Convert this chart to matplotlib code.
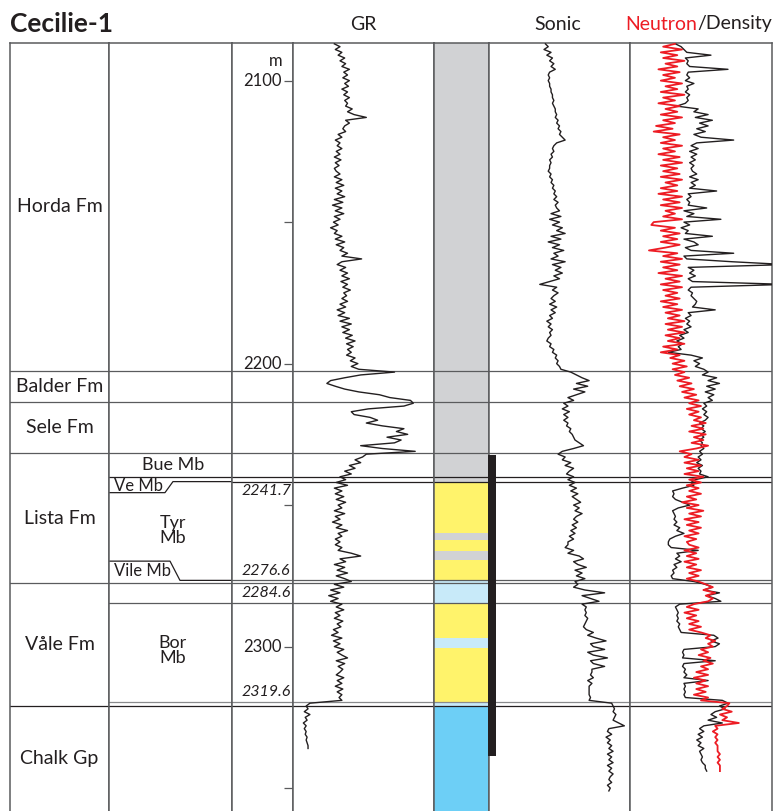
import numpy as np
import matplotlib.pyplot as plt
from matplotlib.transforms import blended_transform_factory

plt.rcParams['font.family'] = ['Lato', 'DejaVu Sans']

# formations, column 1
fm_names = ['Horda Fm', 'Balder Fm', 'Sele Fm', 'Lista Fm', 'Våle Fm', 'Chalk Gp']
fm_tops = [2086.7, 2202.6, 2213.6, 2231.6, 2277.7, 2321.0]
fm_bases = [2202.6, 2213.6, 2231.6, 2277.7, 2321.0, 2358.1]

# members, column 2
mb_names = ['Bue Mb', 'Tyr\nMb', 'Bor\nMb']
mb_depths = [2235.9, 2258.9, 2301.5]
wedge_names = ['Ve Mb', 'Vile Mb']
wedge_depths = [2243.3, 2273.3]

# picks and depth scale, column 3
pick_depths = [2241.7, 2276.6, 2284.6, 2319.6]
depth_ticks = [2100, 2150, 2200, 2250, 2300, 2350]
depth_labels = [2100, 2200, 2300]

# lithology column
lith_tops = [2086.7, 2241.7, 2259.8, 2262.3, 2266.2, 2269.4, 2276.6, 2284.6, 2296.9, 2300.4, 2319.6, 2321.0]
lith_bases = [2241.7, 2259.8, 2262.3, 2266.2, 2269.4, 2276.6, 2284.6, 2296.9, 2300.4, 2319.6, 2321.0, 2358.1]
lith_kinds = ['shale', 'sand', 'shale', 'sand', 'shale', 'sand', 'marl', 'sand', 'marl', 'sand', 'marl', 'chalk']

# cored interval
core_top, core_base = 2232.3, 2338.5

# logs, 1 m samples from the top depth
gr_top = 2087
gr = [44, 50, 45, 52, 48, 55, 50, 56, 52, 60, 54, 58, 53, 60, 55, 59, 52, 58, 54, 60, 55, 58, 56, 63, 58,
      65, 78, 56, 60, 55, 53, 56, 48, 52, 45, 50, 47, 52, 46, 50, 44, 51, 45, 49, 44,
      46, 50, 44, 52, 46, 54, 45, 52, 47, 55, 44, 53, 42, 52, 45, 54, 44, 50, 43, 48, 40, 47,
      44, 52, 45, 55, 46, 54, 50, 58, 52, 73, 52, 47, 56, 50, 58, 52, 60, 51, 58, 53, 61, 54,
      57, 52, 58, 50, 56, 47, 55, 48, 60, 50, 62, 52, 60, 53, 63, 56, 66, 57, 64, 58, 62, 57,
      66, 61, 69, 62, 70, 108, 72, 55, 40, 36, 45, 55, 70, 92, 103, 125, 128, 118, 80, 62, 65, 82,
      90, 78, 95, 118, 110, 122, 100, 115, 108, 72, 95, 130, 78, 74, 66, 72, 60, 66, 55, 62,
      50, 56, 46, 58, 44, 52, 45, 54, 46, 56, 48, 52, 44, 55, 45, 50, 42, 52, 46, 58, 48, 52, 45, 50,
      45, 52, 48, 62, 72, 50, 56, 44, 55, 47, 58, 46, 55, 62, 44, 54, 40, 50, 38, 48, 40, 52,
      46, 54, 45, 50, 44, 53, 47, 51, 43, 48, 41, 52, 43, 50, 44, 54, 47, 52, 58, 46, 55, 48, 53,
      50, 46, 54, 47, 52, 45, 53, 47, 52, 49, 52, 18, 14, 16, 12, 18, 13, 15, 11, 14, 12, 14,
      13, 15, 14, 15, 16, 16]

dt_top = 2087
dt = [100, 98, 101, 96, 99, 95, 97, 94, 96, 93, 97, 98, 97, 98, 97, 97, 96, 96, 95, 95, 94, 95, 94,
      93, 93, 92, 93, 91, 92, 90, 91, 89, 90, 88, 86, 92, 94, 95, 94, 96, 95, 97, 96, 97, 97,
      98, 96, 97, 95, 96, 94, 95, 93, 94, 92, 94, 91, 93, 92, 90, 96, 89, 97, 90, 95, 88, 92,
      86, 96, 89, 98, 90, 95, 87, 94, 91, 96, 86, 95, 89, 93, 88, 94, 90, 97, 104, 92, 95, 91,
      94, 96, 93, 97, 92, 96, 93, 97, 95, 99, 96, 98, 95, 97, 96, 98, 99, 96, 97, 94, 95, 92,
      93, 91, 92, 90, 89, 82, 78, 74, 69, 78, 70, 80, 72, 78, 84, 80, 87, 84, 88, 83, 87, 84,
      87, 84, 85, 82, 83, 81, 80, 79, 76, 73, 80, 88, 91, 86, 88, 82, 86, 80, 83, 85, 80, 84,
      79, 83, 78, 82, 77, 81, 78, 75, 80, 76, 79, 74, 78, 80, 77, 81, 78, 82, 79, 83, 80, 84,
      84, 86, 80, 84, 76, 73, 80, 77, 71, 79, 74, 78, 72, 79, 77, 80, 72, 58, 74, 68, 62, 74,
      71, 72, 71, 72, 70, 71, 72, 73, 71, 66, 70, 64, 57, 68, 66, 58, 70, 66, 56, 68, 66, 58, 67,
      67, 68, 66, 70, 67, 69, 69, 69, 69, 68, 69, 53, 52, 51, 52, 50, 51, 52, 48, 44, 55, 56,
      53, 57, 54, 56, 53, 55, 52, 56, 53, 55, 52, 56, 53, 55, 52, 54, 55, 53, 56, 54, 55]

rhob_top = 2087
rhob = [2.27, 2.31, 2.33, 2.35, 2.52, 2.34, 2.36, 2.35, 2.37, 2.64, 2.36, 2.35, 2.37, 2.34, 2.40,
        2.35, 2.36, 2.34, 2.37, 2.35, 2.36, 2.34, 2.28, 2.43, 2.40, 2.50, 2.41, 2.53, 2.44, 2.50,
        2.42, 2.48, 2.40, 2.45, 2.68, 2.42, 2.38, 2.43, 2.37, 2.42, 2.38, 2.41, 2.37, 2.40, 2.38,
        2.39, 2.42, 2.37, 2.43, 2.38, 2.41, 2.37, 2.56, 2.36, 2.38, 2.35, 2.37, 2.36, 2.49, 2.33,
        2.40, 2.35, 2.59, 2.33, 2.37, 2.31, 2.36, 2.34, 2.53, 2.33, 2.40, 2.43, 2.34, 2.38, 2.68,
        2.33, 2.35, 2.67, 3.05, 2.36, 2.40, 2.37, 2.41, 2.36, 2.39, 3.05, 2.38, 2.36, 2.39,
        2.38, 2.40, 2.42, 2.41, 2.39, 2.55, 2.36, 2.38, 2.34, 2.37, 2.35, 2.38, 2.33, 2.36, 2.30,
        2.33, 2.28, 2.32, 2.29, 2.31, 2.22, 2.38, 2.46, 2.40, 2.44, 2.41, 2.47, 2.50, 2.46, 2.56,
        2.50, 2.58, 2.49, 2.55, 2.48, 2.54, 2.50, 2.53, 2.47, 2.49, 2.46, 2.49, 2.47, 2.50,
        2.48, 2.44, 2.47, 2.45, 2.48, 2.45, 2.47, 2.44, 2.46, 2.45, 2.47, 2.44, 2.46, 2.43, 2.45,
        2.42, 2.46, 2.43, 2.45, 2.44, 2.50, 2.41, 2.38, 2.40, 2.32, 2.25, 2.26, 2.25, 2.27, 2.32,
        2.37, 2.29, 2.25, 2.26, 2.27, 2.26, 2.28, 2.26, 2.30, 2.28, 2.33, 2.27, 2.23, 2.22,
        2.22, 2.24, 2.43, 2.28, 2.30, 2.27, 2.31, 2.26, 2.28, 2.25, 2.26, 2.24, 2.25, 2.40, 2.48,
        2.53, 2.47, 2.58, 2.49, 2.55, 2.59, 2.30, 2.27, 2.28, 2.29, 2.28, 2.29, 2.28, 2.30, 2.29,
        2.30, 2.31, 2.54, 2.57, 2.52, 2.58, 2.55, 2.33, 2.32, 2.33, 2.32, 2.55, 2.33, 2.32, 2.34,
        2.33, 2.35, 2.33, 2.50, 2.33, 2.34, 2.33, 2.34, 2.33, 2.34, 2.60, 2.64, 2.58, 2.62, 2.55,
        2.52, 2.56, 2.50, 2.60, 2.47, 2.44, 2.47, 2.43, 2.46, 2.42, 2.45, 2.43, 2.47, 2.44, 2.45,
        2.46, 2.45, 2.46, 2.48, 2.48, 2.49]

nphi_top = 2087
nphi = [0.26, 0.31, 0.23, 0.32, 0.25, 0.31, 0.22, 0.30, 0.25, 0.33, 0.24, 0.31, 0.26, 0.32, 0.23,
        0.30, 0.25, 0.32, 0.22, 0.31, 0.26, 0.33, 0.24, 0.30, 0.25, 0.32, 0.23, 0.31, 0.26, 0.34,
        0.27, 0.35, 0.24, 0.31, 0.26, 0.32, 0.23, 0.31, 0.26, 0.33, 0.24, 0.31, 0.23, 0.32, 0.25,
        0.31, 0.24, 0.32, 0.23, 0.30, 0.25, 0.32, 0.25, 0.33, 0.23, 0.31, 0.24, 0.32, 0.23, 0.30,
        0.26, 0.31, 0.23, 0.35, 0.36, 0.26, 0.32, 0.24, 0.31, 0.25, 0.32, 0.24, 0.30, 0.37, 0.25,
        0.31, 0.23, 0.32, 0.24, 0.31, 0.25, 0.33, 0.23, 0.30, 0.24, 0.32, 0.23, 0.31, 0.25,
        0.30, 0.24, 0.32, 0.25, 0.31, 0.23, 0.30, 0.24, 0.29, 0.22, 0.30, 0.23, 0.29, 0.22, 0.30,
        0.24, 0.29, 0.22, 0.31, 0.25, 0.32, 0.24, 0.28, 0.22, 0.27, 0.21, 0.27, 0.22, 0.26, 0.20,
        0.25, 0.19, 0.24, 0.18, 0.23, 0.17, 0.22, 0.16, 0.20, 0.15, 0.21, 0.16, 0.20, 0.15,
        0.18, 0.13, 0.19, 0.14, 0.20, 0.13, 0.18, 0.14, 0.19, 0.12, 0.17, 0.24, 0.19, 0.22, 0.16,
        0.22, 0.15, 0.21, 0.16, 0.22, 0.14, 0.20, 0.15, 0.21, 0.16, 0.20, 0.15, 0.21, 0.17, 0.23,
        0.16, 0.21, 0.14, 0.20, 0.15, 0.22, 0.16, 0.21, 0.15, 0.20, 0.16, 0.22, 0.17, 0.21,
        0.20, 0.16, 0.22, 0.17, 0.21, 0.16, 0.22, 0.17, 0.21, 0.15, 0.20, 0.16, 0.21, 0.16, 0.13,
        0.10, 0.14, 0.09, 0.13, 0.10, 0.12, 0.18, 0.21, 0.16, 0.22, 0.17, 0.21, 0.16, 0.20, 0.15,
        0.20, 0.15, 0.11, 0.13, 0.09, 0.12, 0.10, 0.15, 0.12, 0.16, 0.11, 0.14, 0.10, 0.15, 0.12,
        0.17, 0.12, 0.18, 0.13, 0.17, 0.12, 0.17, 0.13, 0.18, 0.12, 0.15, 0.03, 0.04, 0.06, 0.02,
        0.07, 0.04, 0.06, -0.01, 0.09, 0.08, 0.10, 0.08, 0.09, 0.08, 0.09, 0.08, 0.08, 0.08, 0.07,
        0.08, 0.07, 0.08, 0.07, 0.07, 0.07]

INK = '#231f20'
FRAME = '#5a5b5d'
RED = '#ed1c24'
lith_colors = {'shale': '#d1d2d4', 'sand': '#fff36b', 'marl': '#c8eaf9', 'chalk': '#6dcff6'}

W, H = 773, 811
top_depth, base_depth = fm_tops[0], fm_bases[-1]
frame_top = 43
edges = [10, 109, 232, 293, 434, 489, 630, 772]

fig = plt.figure(figsize=(W / 100, H / 100), dpi=100)

tracks = []
for x0, x1 in zip(edges[:-1], edges[1:]):
    ax = fig.add_axes([x0 / W, 0, (x1 - x0) / W, (H - frame_top) / H])
    ax.set_ylim(base_depth, top_depth)
    ax.set_xlim(0, 1)
    ax.set_xticks([])
    ax.set_yticks([])
    for side in ['left', 'right', 'top']:
        ax.spines[side].set_color(FRAME)
        ax.spines[side].set_linewidth(1.1)
    ax.spines['bottom'].set_visible(False)
    tracks.append(ax)

ax_fm, ax_mb, ax_depth, ax_gr, ax_lith, ax_dt, ax_nd = tracks


def blend(ax):
    return blended_transform_factory(ax.transAxes, ax.transData)


# boundary lines: depth, first track they cross, colour
boundaries = [(2202.6, 0, FRAME), (2213.6, 0, FRAME), (2231.6, 0, FRAME),
              (2240.1, 1, INK), (2241.7, 2, INK), (2276.6, 2, FRAME), (2277.7, 0, FRAME),
              (2284.6, 1, FRAME), (2319.6, 1, '#8a8b8d'), (2321.0, 0, INK)]
for depth, first, color in boundaries:
    for ax in tracks[first:]:
        ax.axhline(depth, color=color, lw=0.9, zorder=2)

# Ve and Vile wedges in the member column
ax_mb.plot([0, 0.455, 0.52, 1], [2245.6, 2245.6, 2241.7, 2241.7], color=INK, lw=0.9,
           transform=blend(ax_mb), zorder=2)
ax_mb.plot([0, 0.496, 0.577, 1], [2269.8, 2269.8, 2276.6, 2276.6], color=INK, lw=0.9,
           transform=blend(ax_mb), zorder=2)

# formation and member names
for name, top, base in zip(fm_names, fm_tops, fm_bases):
    ax_fm.text(0.5, (top + base) / 2, name, transform=blend(ax_fm), ha='center', va='center',
               fontsize=14, color=INK)
for name, depth in zip(mb_names, mb_depths):
    ax_mb.text(0.52, depth, name, transform=blend(ax_mb), ha='center', va='center',
               fontsize=13, color=INK, linespacing=0.9)
for name, depth in zip(wedge_names, wedge_depths):
    ax_mb.text(0.04, depth, name, transform=blend(ax_mb), ha='left', va='center',
               fontsize=12, color=INK)

# depth column
ax_depth.set_yticks(depth_ticks)
ax_depth.tick_params(axis='y', left=False, right=True, direction='in', length=6.5, width=0.9,
                     color=FRAME, labelleft=False, labelright=False)
for d in depth_labels:
    ax_depth.text(0.82, d, str(d), transform=blend(ax_depth), ha='right', va='center',
                  fontsize=12, color=INK)
ax_depth.annotate('m', xy=(0.82, depth_labels[0]), xycoords=blend(ax_depth),
                  xytext=(0, 14), textcoords='offset points', ha='right', va='center',
                  fontsize=12, color=INK)
for d in pick_depths:
    below = d == pick_depths[0]
    ax_depth.annotate(f'{d:.1f}', xy=(0.15, d), xycoords=blend(ax_depth),
                      xytext=(0, -2 if below else 2), textcoords='offset points',
                      ha='left', va='top' if below else 'bottom',
                      fontsize=11.5, fontstyle='italic', color=INK)

# lithology column
for top, base, kind in zip(lith_tops, lith_bases, lith_kinds):
    ax_lith.axhspan(top, base, color=lith_colors[kind], lw=0, zorder=1)

# core bar on the left edge of the sonic track
ax_dt.add_patch(plt.Rectangle((-0.005, core_top), 0.055, core_base - core_top, transform=blend(ax_dt),
                              color=INK, lw=0, zorder=3, clip_on=False))

# log curves
gr_depth = gr_top + np.arange(len(gr))
ax_gr.set_xlim(0, 150)
ax_gr.plot(gr, gr_depth, color=INK, lw=1.0, zorder=3)

dt_depth = dt_top + np.arange(len(dt))
ax_dt.set_xlim(140, 40)
ax_dt.plot(dt, dt_depth, color=INK, lw=1.0, zorder=3)

rhob_depth = rhob_top + np.arange(len(rhob))
ax_nd.set_xlim(1.95, 2.95)
ax_nd.plot(rhob, rhob_depth, color=INK, lw=1.0, zorder=3)

ax_nphi = ax_nd.twiny()
ax_nphi.set_xlim(0.45, -0.15)
ax_nphi.set_xticks([])
for side in ax_nphi.spines.values():
    side.set_visible(False)
nphi_depth = nphi_top + np.arange(len(nphi))
ax_nphi.plot(nphi, nphi_depth, color=RED, lw=1.3, zorder=3)

# header
fig.text(10 / W, 1 - 31.5 / H, 'Cecilie-1', ha='left', va='baseline', fontsize=19,
         fontweight='bold', color=INK)
fig.text((edges[3] + edges[4]) / 2 / W, 1 - 29.5 / H, 'GR', ha='center', va='baseline',
         fontsize=14, color=INK)
fig.text((edges[5] + edges[6]) / 2 / W - 2 / W, 1 - 29.5 / H, 'Sonic', ha='center', va='baseline',
         fontsize=14, color=INK)
dens = fig.text(772 / W, 1 - 29.5 / H, '/Density', ha='right', va='baseline', fontsize=14, color=INK)
ax_nd.annotate('Neutron', xy=(0, 0), xycoords=dens, ha='right', va='bottom', fontsize=14,
               color=RED, annotation_clip=False)

fig.savefig('out.png', dpi=100)
